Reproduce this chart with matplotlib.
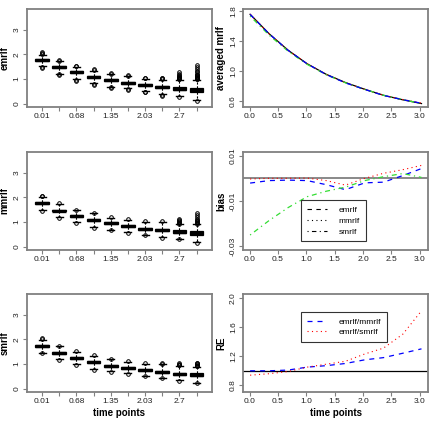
import numpy as np
import matplotlib
matplotlib.use("Agg")
import matplotlib.pyplot as plt

plt.rcParams['font.family'] = ['Liberation Sans', 'DejaVu Sans']

# time points of the simulation
t_pts = [0.01, 0.345, 0.68, 1.015, 1.35, 1.69, 2.03, 2.36, 2.7, 3.03]
t_labels = ['0.01', '', '0.68', '', '1.35', '', '2.03', '', '2.7', '']

# box plot summaries
emr_med = [1.77, 1.49, 1.27, 1.10, 0.95, 0.86, 0.75, 0.67, 0.61, 0.55]
emr_q1 = [1.73, 1.45, 1.23, 1.06, 0.91, 0.82, 0.71, 0.63, 0.56, 0.47]
emr_q3 = [1.81, 1.53, 1.31, 1.14, 0.99, 0.90, 0.79, 0.71, 0.67, 0.65]
emr_hi = [1.98, 1.72, 1.50, 1.34, 1.19, 1.11, 1.01, 0.98, 0.97, 0.97]
emr_lo = [1.52, 1.22, 0.99, 0.84, 0.70, 0.62, 0.51, 0.38, 0.30, 0.16]
emr_out = [[2.03, 2.06, 2.10, 1.48, 1.45], [1.75, 1.78, 1.19, 1.16], [1.53, 1.55, 0.96, 0.93],
           [1.37, 1.39, 0.80, 0.77], [1.22, 1.24, 0.67, 0.64], [1.13, 1.16, 0.59, 0.57],
           [1.03, 1.06, 0.48, 0.46], [1.00, 1.03, 1.06, 0.34, 0.32],
           [1.00, 1.02, 1.04, 1.06, 1.08, 1.10, 1.13, 1.17, 1.22, 1.28, 0.27],
           [1.00, 1.02, 1.04, 1.06, 1.08, 1.10, 1.12, 1.15, 1.18, 1.22, 1.27, 1.33, 1.40, 1.48, 1.57, 0.13]]

mmr_med = [1.77, 1.47, 1.25, 1.08, 0.95, 0.83, 0.74, 0.68, 0.61, 0.55]
mmr_q1 = [1.73, 1.43, 1.21, 1.04, 0.91, 0.79, 0.70, 0.64, 0.57, 0.47]
mmr_q3 = [1.81, 1.51, 1.29, 1.12, 0.99, 0.87, 0.78, 0.72, 0.66, 0.65]
mmr_hi = [2.00, 1.74, 1.48, 1.35, 1.18, 1.09, 1.02, 1.01, 0.91, 0.91]
mmr_lo = [1.50, 1.20, 0.99, 0.80, 0.70, 0.59, 0.49, 0.39, 0.32, 0.18]
mmr_out = [[2.04, 2.07, 1.47], [1.77, 1.17], [1.51, 0.96], [1.38, 0.77], [1.21, 0.67],
           [1.12, 0.57], [1.05, 0.47], [1.04, 0.37],
           [0.94, 0.97, 1.00, 1.04, 1.09, 1.14, 0.30],
           [0.94, 0.97, 1.00, 1.04, 1.08, 1.13, 1.19, 1.27, 1.35, 0.16]]

smr_med = [1.75, 1.45, 1.25, 1.08, 0.94, 0.85, 0.75, 0.68, 0.61, 0.57]
smr_q1 = [1.71, 1.41, 1.21, 1.04, 0.90, 0.81, 0.71, 0.64, 0.57, 0.52]
smr_q3 = [1.79, 1.49, 1.29, 1.12, 0.98, 0.89, 0.79, 0.72, 0.65, 0.62]
smr_hi = [1.99, 1.72, 1.49, 1.34, 1.19, 1.10, 1.02, 0.99, 0.92, 0.88]
smr_lo = [1.46, 1.19, 1.00, 0.80, 0.72, 0.63, 0.53, 0.45, 0.36, 0.25]
smr_out = [[2.03, 2.06, 1.43], [1.75, 1.17], [1.52, 0.97], [1.37, 0.77], [1.22, 0.69],
           [1.13, 0.60], [1.05, 0.50], [1.02, 1.05, 0.42],
           [0.95, 0.98, 1.01, 1.04, 0.33], [0.91, 0.94, 0.97, 1.00, 1.03, 1.06, 0.23]]

# averaged mrlf (true curve) and bias of each estimator
true_mrlf = [1.76, 1.50, 1.28, 1.10, 0.96, 0.85, 0.76, 0.68, 0.62, 0.57]
bias_emr = [-0.0021, -0.0010, -0.0008, -0.0010, -0.0028, -0.0050, -0.0020, -0.0017, 0.0012, 0.0043]
bias_mmr = [-0.0003, 0.0000, 0.0000, 0.0001, -0.0010, -0.0030, 0.0000, 0.0022, 0.0038, 0.0057]
bias_smr = [-0.0250, -0.0186, -0.0129, -0.0081, -0.0057, -0.0039, -0.0010, 0.0007, 0.0021, 0.0004]

# relative efficiency
re_em = [1.00, 1.00, 1.01, 1.05, 1.07, 1.10, 1.15, 1.18, 1.24, 1.30]
re_es = [0.94, 0.96, 0.99, 1.05, 1.09, 1.13, 1.23, 1.31, 1.50, 1.82]

W, H = 430, 423
fig = plt.figure(figsize=(W / 100, H / 100), dpi=100)

rows = [(9, 107), (152, 250), (294, 392)]
cols = [(26.7, 212), (243.3, 428.3)]
frame = '#808080'
green = '#33dd33'


def make_ax(r, c):
    x0, x1 = cols[c]
    y0, y1 = rows[r]
    ax = fig.add_axes([x0 / W, 1 - y1 / H, (x1 - x0) / W, (y1 - y0) / H])
    for s in ax.spines.values():
        s.set_color(frame)
        s.set_linewidth(1.3)
    ax.tick_params(direction='out', length=3, width=0.8, color=frame,
                   labelsize=6, labelcolor='#222222', pad=1.5)
    ax.tick_params(axis='y', labelrotation=90)
    return ax


def finish_y(ax, lab):
    for l in ax.get_yticklabels():
        l.set_va('center')
    ax.set_ylabel(lab, fontsize=7, fontweight='bold')
    ax.yaxis.set_label_coords(-0.092, 0.5)


def box_panel(ax, med, q1, q3, lo, hi, out, lab):
    stats = []
    for i in range(len(med)):
        stats.append(dict(med=med[i], q1=q1[i], q3=q3[i], whislo=lo[i], whishi=hi[i], fliers=out[i]))
    ax.bxp(stats, positions=range(1, 11), widths=0.8, patch_artist=True,
           boxprops=dict(facecolor='white', edgecolor='black', linewidth=0.9),
           medianprops=dict(color='black', linewidth=2.4),
           whiskerprops=dict(color='black', linewidth=0.8, linestyle=(0, (2, 1.5))),
           capprops=dict(color='black', linewidth=1.0),
           flierprops=dict(marker='o', markersize=2.6, markerfacecolor='none',
                           markeredgecolor='black', markeredgewidth=0.7))
    ax.set_xlim(0.1, 10.9)
    ax.set_ylim(-0.13, 3.84)
    ax.set_xticks(range(1, 11))
    ax.set_xticklabels(t_labels)
    ax.set_yticks([0, 1, 2, 3])
    ax.set_yticklabels(['0', '1', '2', '3'])
    finish_y(ax, lab)


ax = make_ax(0, 0)
box_panel(ax, emr_med, emr_q1, emr_q3, emr_lo, emr_hi, emr_out, 'emrlf')
ax = make_ax(1, 0)
box_panel(ax, mmr_med, mmr_q1, mmr_q3, mmr_lo, mmr_hi, mmr_out, 'mmrlf')
ax = make_ax(2, 0)
box_panel(ax, smr_med, smr_q1, smr_q3, smr_lo, smr_hi, smr_out, 'smrlf')
ax.set_xlabel('time points', fontsize=7, fontweight='bold', labelpad=2)

ls_dash = (0, (4, 4))
ls_dot = (0, (1, 3))
ls_dd = (0, (1, 3, 4, 3))
xt = [0, 0.5, 1, 1.5, 2, 2.5, 3]
xtl = ['0.0', '0.5', '1.0', '1.5', '2.0', '2.5', '3.0']

# averaged mrlf
ax = make_ax(0, 1)
tm = np.array(true_mrlf)
ax.plot(t_pts, tm, color='black', lw=0.9)
ax.plot(t_pts, tm + np.array(bias_mmr), color='red', lw=0.8, ls=ls_dot)
ax.plot(t_pts, tm + np.array(bias_smr), color=green, lw=0.9, ls=ls_dd)
ax.plot(t_pts, tm + np.array(bias_emr), color='blue', lw=0.9, ls=ls_dash)
ax.set_xlim(-0.11, 3.15)
ax.set_ylim(0.524, 1.83)
ax.set_xticks(xt)
ax.set_xticklabels(xtl)
ax.set_yticks([0.6, 1.0, 1.4, 1.8])
ax.set_yticklabels(['0.6', '1.0', '1.4', '1.8'])
finish_y(ax, 'averaged mrlf')

# bias
ax = make_ax(1, 1)
ax.axhline(0, color='#808080', lw=1.3)
ax.plot(t_pts, bias_emr, color='blue', lw=0.9, ls=ls_dash)
ax.plot(t_pts, bias_mmr, color='red', lw=0.8, ls=ls_dot)
ax.plot(t_pts, bias_smr, color=green, lw=0.9, ls=ls_dd)
ax.set_xlim(-0.11, 3.15)
ax.set_ylim(-0.0316, 0.0116)
ax.set_xticks(xt)
ax.set_xticklabels(xtl)
ax.set_yticks([0.01, -0.01, -0.03])
ax.set_yticklabels(['0.01', '-0.01', '-0.03'])
finish_y(ax, 'bias')
h1, = ax.plot([], [], color='black', lw=0.8, ls=ls_dash)
h2, = ax.plot([], [], color='black', lw=0.8, ls=ls_dot)
h3, = ax.plot([], [], color='black', lw=0.8, ls=ls_dd)
leg = ax.legend([h1, h2, h3], ['emrlf', 'mmrlf', 'smrlf'], loc='center',
                bbox_to_anchor=(0.487, 0.296), fontsize=6, frameon=True, fancybox=False,
                handlelength=2.4, handletextpad=1.4, borderpad=0.7, labelspacing=0.35)
leg.get_frame().set_edgecolor('black')
leg.get_frame().set_linewidth(0.8)

# relative efficiency
ax = make_ax(2, 1)
ax.axhline(1, color='black', lw=0.9)
ax.plot(t_pts, re_em, color='blue', lw=0.9, ls=ls_dash, label='emrlf/mmrlf')
ax.plot(t_pts, re_es, color='red', lw=0.8, ls=ls_dot, label='emrlf/smrlf')
ax.set_xlim(-0.11, 3.15)
ax.set_ylim(0.71, 2.05)
ax.set_xticks(xt)
ax.set_xticklabels(xtl)
ax.set_yticks([0.8, 1.2, 1.6, 2.0])
ax.set_yticklabels(['0.8', '1.2', '1.6', '2.0'])
finish_y(ax, 'RE')
ax.set_xlabel('time points', fontsize=7, fontweight='bold', labelpad=2)
leg = ax.legend(loc='center', bbox_to_anchor=(0.546, 0.663), fontsize=6, frameon=True,
                fancybox=False, handlelength=2.4, handletextpad=1.4, borderpad=0.7,
                labelspacing=0.35)
leg.get_frame().set_edgecolor('black')
leg.get_frame().set_linewidth(0.8)

fig.savefig('out.png', dpi=100)
